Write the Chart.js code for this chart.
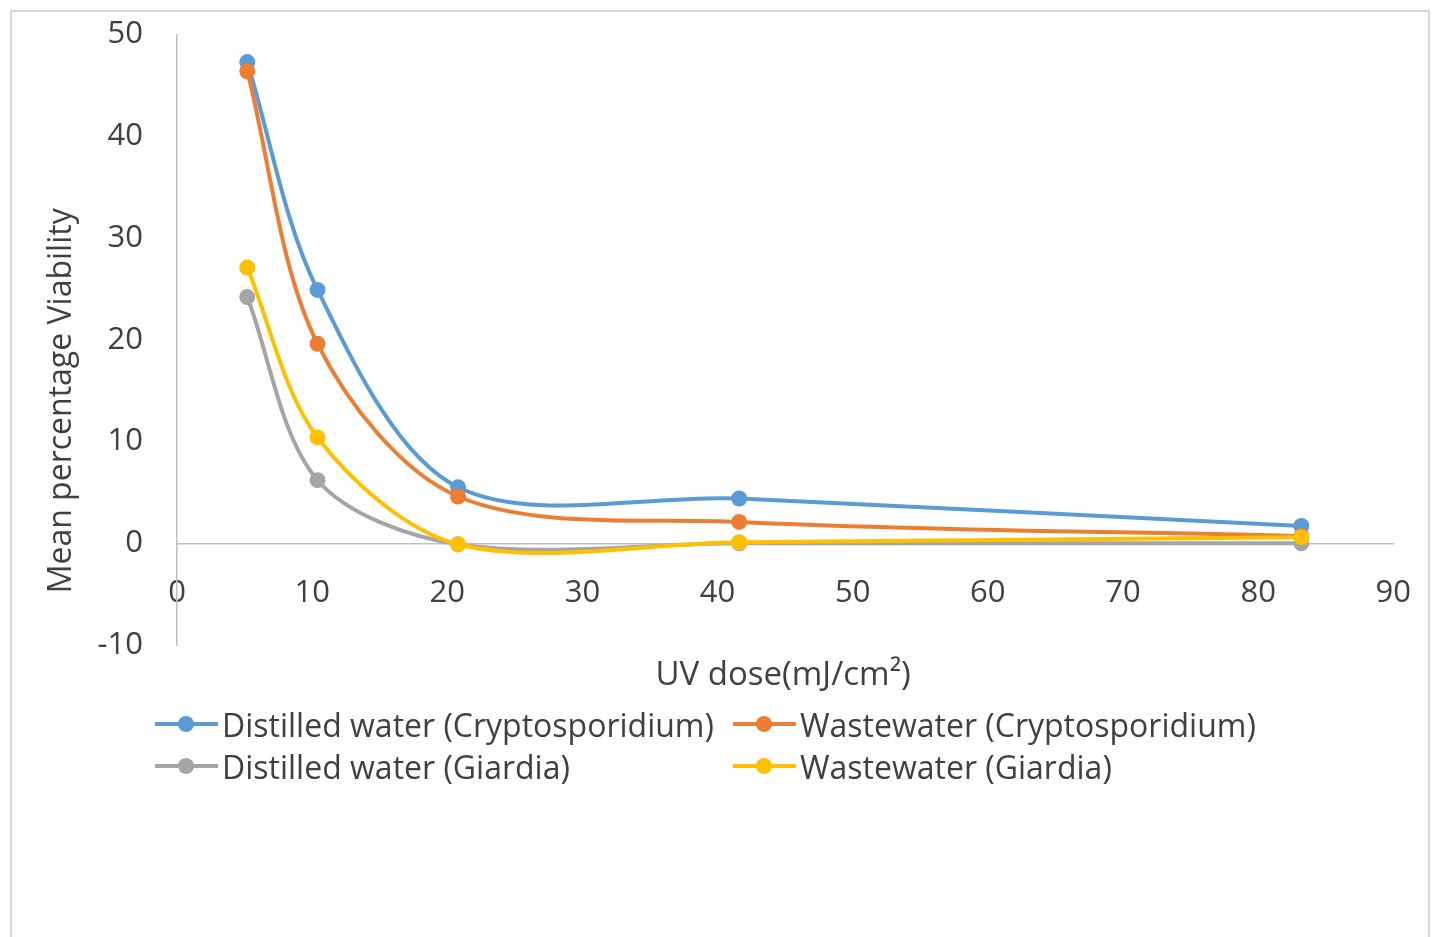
<!DOCTYPE html>
<html>
<head>
<meta charset="utf-8">
<script src="https://cdn.jsdelivr.net/npm/chart.js@4/dist/chart.umd.min.js"></script>
<style>
  html, body { margin: 0; padding: 0; background: #fff; overflow: hidden; }
  #frame { position: absolute; left: 10px; top: 10px; width: 1420px; height: 960px; border: 2px solid #d9d9d9; box-sizing: border-box; }
  #wrap { position: absolute; left: 0; top: -18px; width: 1442px; height: 955px; }
  #legend { position: absolute; left: 155px; top: 703px; font-family: "Open Sans", sans-serif; font-size: 32px; color: #404040; }
  #legend .item { position: absolute; white-space: nowrap; display: flex; align-items: center; height: 42px; }
  #legend .mark { position: relative; width: 63px; height: 42px; margin-right: 4px; }
  #legend .mark .ln { position: absolute; left: 0; right: 0; top: 19px; height: 4px; }
  #legend .mark .dot { position: absolute; left: 23px; top: 13px; width: 16px; height: 16px; border-radius: 50%; }
</style>
</head>
<body>
<div id="frame"></div>
<div id="wrap"><canvas id="chart" width="1442" height="955"></canvas></div>
<div id="legend"></div>
<script>
// UV dose (mJ/cm²)
const doses = [5.2, 10.4, 20.8, 41.6, 83.2];

const seriesNames = [
    "Distilled water (Cryptosporidium)",
    "Wastewater (Cryptosporidium)",
    "Distilled water (Giardia)",
    "Wastewater (Giardia)"
];
const distilledCrypto  = [47.3, 24.9, 5.5, 4.4, 1.7];
const wastewaterCrypto = [46.4, 19.6, 4.6, 2.1, 0.7];
const distilledGiardia = [24.2, 6.2, -0.1, 0.0, 0.0];
const wastewaterGiardia = [27.1, 10.4, -0.1, 0.1, 0.6];

const colors = ["#5b9bd5", "#ed7d31", "#a5a5a5", "#ffc000"];

const xTitle = "UV dose(mJ/cm²)";
const yTitle = "Mean percentage Viability";

const allSeries = [distilledCrypto, wastewaterCrypto, distilledGiardia, wastewaterGiardia];

const datasets = allSeries.map((vals, i) => ({
    label: seriesNames[i],
    data: vals.map((v, j) => ({ x: doses[j], y: v })),
    borderColor: colors[i],
    backgroundColor: colors[i],
    borderWidth: 4,
    pointRadius: 8,
    pointHoverRadius: 8,
    pointBorderWidth: 0,
    tension: 0.32,
    fill: false,
    order: allSeries.length - i // later series drawn on top, like Excel
}));

const textColor = "#404040";
const fontFamily = "'Open Sans', sans-serif";

// axis titles drawn by hand so they sit where the original has them
const axisTitles = {
    id: "axisTitles",
    afterDraw (chart) {
        const { ctx, chartArea } = chart;
        ctx.save();
        ctx.fillStyle = textColor;
        ctx.textAlign = "center";
        ctx.textBaseline = "middle";
        ctx.font = "33px " + fontFamily;
        ctx.fillText(xTitle, (chartArea.left + chartArea.right) / 2 - 2, chartArea.bottom + 31);
        ctx.font = "32px " + fontFamily;
        ctx.translate(62, chartArea.top + (chartArea.bottom - chartArea.top) * 0.6);
        ctx.rotate(-Math.PI / 2);
        ctx.fillText(yTitle, 0, 0);
        ctx.restore();
    }
};

const chart = new Chart(document.getElementById("chart").getContext("2d"), {
    type: "line",
    data: { datasets },
    options: {
        responsive: false,
        animation: false,
        events: [],
        layout: { padding: { left: 0, top: 15, right: 24, bottom: 292 } },
        plugins: {
            legend: { display: false },
            tooltip: { enabled: false }
        },
        scales: {
            x: {
                type: "linear",
                position: { y: 0 },
                min: 0,
                max: 90,
                grid: { display: false, drawTicks: false },
                border: { display: true, color: "#bfbfbf", width: 1.5 },
                ticks: {
                    stepSize: 10,
                    padding: 31,
                    color: textColor,
                    font: { family: fontFamily, size: 31 }
                }
            },
            y: {
                type: "linear",
                min: -10,
                max: 50,
                grid: { display: false, drawTicks: false },
                border: { display: true, color: "#bfbfbf", width: 1.5 },
                ticks: {
                    stepSize: 10,
                    padding: 34,
                    color: textColor,
                    font: { family: fontFamily, size: 31 }
                },
                afterFit (scale) { scale.width = 177; }
            }
        }
    },
    plugins: [axisTitles]
});

// HTML legend in two aligned columns, built from the datasets
const legendEl = document.getElementById("legend");
const colX = [0, 578];
chart.data.datasets.forEach((ds, i) => {
    const item = document.createElement("div");
    item.className = "item";
    item.style.left = colX[i % 2] + "px";
    item.style.top = Math.floor(i / 2) * 42 + "px";
    item.innerHTML = `<span class="mark"><span class="ln" style="background:${ds.borderColor}"></span>` +
        `<span class="dot" style="background:${ds.borderColor}"></span></span><span>${ds.label}</span>`;
    legendEl.appendChild(item);
});
</script>
</body>
</html>
